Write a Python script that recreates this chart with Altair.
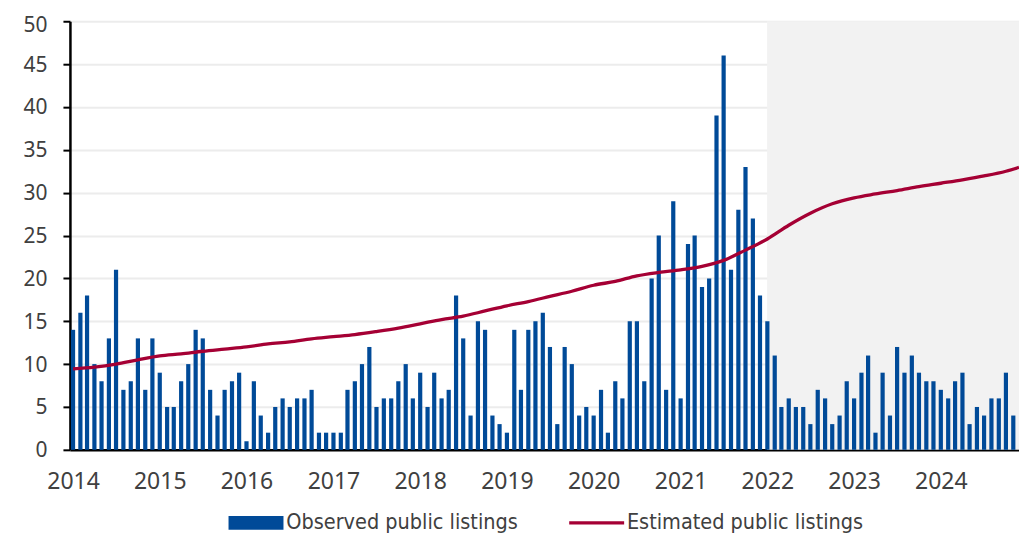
import altair as alt
import pandas as pd

# Observed public listings, monthly Jan 2014 - Nov 2024
observed_2014 = [14, 16, 18, 10, 8, 13, 21, 7, 8, 13, 7, 13]
observed_2015 = [9, 5, 5, 8, 10, 14, 13, 7, 4, 7, 8, 9]
observed_2016 = [1, 8, 4, 2, 5, 6, 5, 6, 6, 7, 2, 2]
observed_2017 = [2, 2, 7, 8, 10, 12, 5, 6, 6, 8, 10, 6]
observed_2018 = [9, 5, 9, 6, 7, 18, 13, 4, 15, 14, 4, 3]
observed_2019 = [2, 14, 7, 14, 15, 16, 12, 3, 12, 10, 4, 5]
observed_2020 = [4, 7, 2, 8, 6, 15, 15, 8, 20, 25, 7, 29]
observed_2021 = [6, 24, 25, 19, 20, 39, 46, 21, 28, 33, 27, 18]
observed_2022 = [15, 11, 5, 6, 5, 5, 3, 7, 6, 3, 4, 8]
observed_2023 = [6, 9, 11, 2, 9, 4, 12, 9, 11, 9, 8, 8]
observed_2024 = [7, 6, 8, 9, 3, 5, 4, 6, 6, 9, 4]

observed = (observed_2014 + observed_2015 + observed_2016 + observed_2017 +
            observed_2018 + observed_2019 + observed_2020 + observed_2021 +
            observed_2022 + observed_2023 + observed_2024)
months = [d.strftime("%Y-%m-%dT00:00:00")
          for d in pd.date_range("2014-01-01", periods=len(observed), freq="MS")]

# Estimated public listings (read quarterly off the curve)
est_dates = [
    "2014-01-01", "2014-04-01", "2014-07-01", "2014-10-01",
    "2015-01-01", "2015-04-01", "2015-07-01", "2015-10-01",
    "2016-01-01", "2016-04-01", "2016-07-01", "2016-10-01",
    "2017-01-01", "2017-04-01", "2017-07-01", "2017-10-01",
    "2018-01-01", "2018-04-01", "2018-07-01", "2018-10-01",
    "2019-01-01", "2019-04-01", "2019-07-01", "2019-10-01",
    "2020-01-01", "2020-04-01", "2020-07-01", "2020-10-01",
    "2021-01-01", "2021-04-01", "2021-07-01", "2021-10-01",
    "2022-01-01", "2022-04-01", "2022-07-01", "2022-10-01",
    "2023-01-01", "2023-04-01", "2023-07-01", "2023-10-01",
    "2024-01-01", "2024-04-01", "2024-07-01", "2024-10-01",
    "2024-11-25",
]
est_values = [
    9.45, 9.65, 10.0, 10.5,
    10.95, 11.2, 11.5, 11.75,
    12.0, 12.35, 12.6, 12.95,
    13.2, 13.45, 13.8, 14.2,
    14.7, 15.2, 15.6, 16.2,
    16.8, 17.3, 17.9, 18.5,
    19.2, 19.65, 20.3, 20.7,
    21.0, 21.4, 22.1, 23.3,
    24.6, 26.2, 27.6, 28.7,
    29.4, 29.85, 30.25, 30.7,
    31.1, 31.5, 31.95, 32.5,
    32.95,
]

series_names = ["Observed public listings", "Estimated public listings"]
series_colors = ["#004a98", "#a50034"]

shade_start = ["2021-12-31T00:00:00"]
shade_end = ["2024-11-25T00:00:00"]

bar_df = pd.DataFrame({"date": months, "value": observed})
line_df = pd.DataFrame({"date": [d + "T00:00:00" for d in est_dates], "value": est_values})
shade_df = pd.DataFrame({"start": shade_start, "end": shade_end, "y0": [0], "y1": [50]})
legend_df = pd.DataFrame({"series": series_names})

FONT = "Noto Sans"
LABEL_COLOR = "#404040"

x_scale = alt.Scale(domain=[alt.DateTime(year=2013, month=12, date=19),
                            alt.DateTime(year=2024, month=11, date=25)],
                    nice=False, padding=0)
y_scale = alt.Scale(domain=[0, 50], nice=False, padding=0)

x_axis = alt.Axis(format="%Y", tickCount={"interval": "year", "step": 1},
                  grid=False, ticks=False, domainColor="black", domainWidth=2.5,
                  labelFont=FONT, labelFontSize=23, labelColor=LABEL_COLOR,
                  labelPadding=21, labelFlush=False, title=None)
y_axis = alt.Axis(values=list(range(0, 51, 5)), grid=True, gridColor="#ececec",
                  gridWidth=2, domainColor="black", domainWidth=2.5,
                  tickColor="black", tickWidth=2, tickSize=7,
                  labelFont=FONT, labelFontSize=21, labelColor=LABEL_COLOR,
                  labelPadding=16,
                  labelOffset={"condition": {"test": "datum.value == 50", "value": 4}, "value": 1},
                  title=None)

shade = alt.Chart(shade_df).mark_rect(color="#f2f2f2").encode(
    x=alt.X("start:T", scale=x_scale, axis=x_axis, title=None),
    x2="end:T",
    y=alt.Y("y0:Q", scale=y_scale, axis=y_axis, title=None),
    y2="y1:Q",
)

bars = alt.Chart(bar_df).mark_bar(size=4.2, color=series_colors[0]).encode(
    x=alt.X("date:T"),
    y=alt.Y("value:Q"),
)

line = alt.Chart(line_df).mark_line(color=series_colors[1], strokeWidth=3.3,
                                    interpolate="monotone", clip=True).encode(
    x=alt.X("date:T"),
    y=alt.Y("value:Q"),
)

leg = alt.Legend(title=None, orient="none", legendX=153, legendY=491,
                 direction="horizontal",
                 symbolSize=100, symbolOpacity=1, symbolStrokeWidth=0,
                 labelFont="DejaVu Sans Condensed, DejaVu Sans, sans-serif",
                 labelFontSize=21.5, labelColor=LABEL_COLOR, labelOffset=42,
                 labelLimit=0, columnPadding=45, padding=0)

legend_layer = alt.Chart(legend_df).mark_point(filled=True, size=100, opacity=0).encode(
    color=alt.Color("series:N", scale=alt.Scale(domain=series_names, range=series_colors), legend=leg),
    shape=alt.Shape("series:N", scale=alt.Scale(domain=series_names,
                    range=["M-1,-1.4H10V1.4H-1Z", "M-1,-0.35H10V0.35H-1Z"]), legend=leg),
)

chart = alt.layer(shade, bars, line, legend_layer).properties(
    width=950, height=429,
    padding={"left": 14, "top": 6, "right": 0, "bottom": 0},
).configure_view(stroke=None)

chart.save("out.html", embed_options={"renderer": "svg", "actions": False})
